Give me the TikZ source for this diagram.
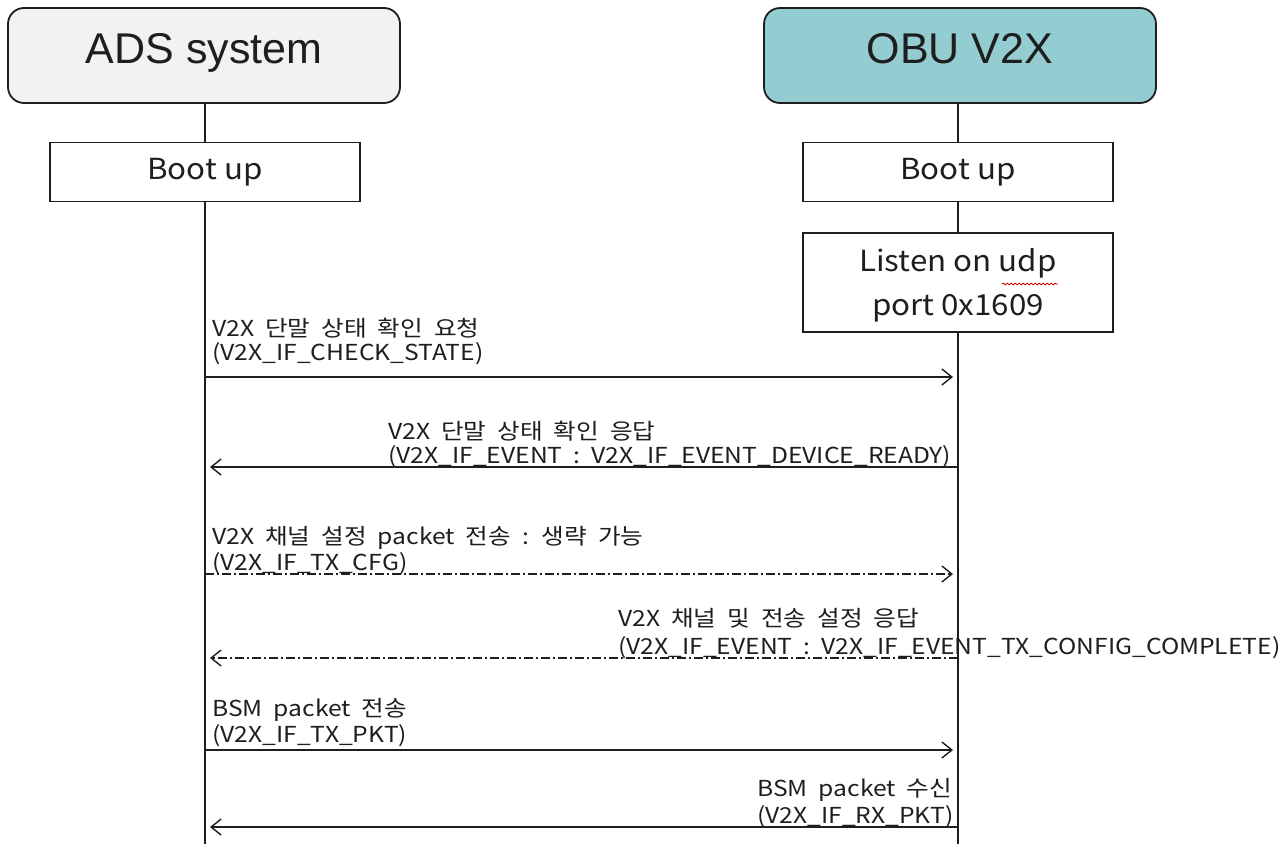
\documentclass[tikz,border=0pt]{standalone}
\usepackage{fontspec}
\setmainfont[FakeStretch=1.08]{Noto Sans CJK KR}
\newfontfamily\lblfam[FakeStretch=1.12]{Noto Sans CJK KR}
\newfontfamily\titlefont{Liberation Sans}
\usetikzlibrary{arrows.meta,decorations.pathmorphing}
\definecolor{teal1}{RGB}{148,205,209}
\definecolor{gray1}{RGB}{242,242,242}
\definecolor{ink}{RGB}{30,30,30}
\newcommand\mylblfont{\lblfam\fontsize{22}{24}\selectfont\spaceskip=0.5em plus 0.1em\relax}
\begin{document}
\begin{tikzpicture}[x=1pt,y=-1pt,
  title/.style={draw=ink, line width=1.8pt, rounded corners=16pt, minimum width=392pt, minimum height=95pt, text height=31pt, text depth=0pt, font=\titlefont\fontsize{43}{50}\selectfont, text=ink},
  stepbox/.style={draw=ink, line width=1.8pt, fill=white, minimum width=310pt, minimum height=59pt, font=\fontsize{29}{44}\selectfont, align=center, text=ink},
  steptext/.style={inner sep=0pt, font=\fontsize{29}{44}\selectfont, align=center, text=ink},
  life/.style={line width=1.8pt, draw=ink},
  msg/.style={line width=1.8pt, draw=ink, shorten >=5pt, -{Straight Barb[length=10pt,width=16pt,line width=1.4pt]}},
  dd/.style={dash pattern=on 9pt off 3pt on 2pt off 3pt},
  lbl/.style={inner sep=0pt, align=left, font=\mylblfont, text=ink}
]
\useasboundingbox (0,0) rectangle (1287,844);
% headers
\node[title, fill=gray1] (ads) at (204,55.5) {\raisebox{8pt}{ADS system}};
\node[title, fill=teal1] (obu) at (960,55.5) {\raisebox{8pt}{OBU V2X}};
% steps
\node[stepbox] (bootL) at (205,172) {\raisebox{-1pt}{Boot up}};
\node[stepbox] (bootR) at (958,172) {\raisebox{-1pt}{Boot up}};
\node[stepbox, minimum height=99pt] (listen) at (958,282.5) {};
\node[steptext] (listentxt) at ([yshift=-3pt]listen.center) {Listen on udp\\port 0x1609};
\draw[red!80!black, line width=0.8pt, decorate, decoration={snake, amplitude=0.9pt, segment length=4pt}] (1002,284) -- (1058,284);
% lifeline ends
\coordinate (Lend) at (205,844);
\coordinate (Rend) at (958,844);
\draw[life] (ads.south -| bootL.north) -- (bootL.north);
\draw[life] (bootL.south) -- (Lend);
\draw[life] (obu.south -| bootR.north) -- (bootR.north);
\draw[life] (bootR.south) -- (listen.north);
\draw[life] (listen.south) -- (Rend);
% message points
\coordinate (L1) at (205,377); \coordinate (R1) at (958,377);
\coordinate (L2) at (205,467); \coordinate (R2) at (958,467);
\coordinate (L3) at (205,574); \coordinate (R3) at (958,574);
\coordinate (L4) at (205,658); \coordinate (R4) at (958,658);
\coordinate (L5) at (205,750); \coordinate (R5) at (958,750);
\coordinate (L6) at (205,827); \coordinate (R6) at (958,827);
% messages
\draw[msg] (L1) -- (R1);
\draw[msg] (R2) -- (L2);
\draw[msg, dd] (L3) -- (R3);
\draw[msg, dd] (R4) -- (L4);
\draw[msg] (L5) -- (R5);
\draw[msg] (R6) -- (L6);
% labels
\node[lbl, anchor=south west] (t1) at (212,365) {V2X 단말 상태 확인 요청\\(V2X\_IF\_CHECK\_STATE)};
\node[lbl, anchor=south west] (t2) at (388,468) {V2X 단말 상태 확인 응답\\(V2X\_IF\_EVENT : V2X\_IF\_EVENT\_DEVICE\_READY)};
\node[lbl, anchor=south west] (t3) at (212,575) {V2X 채널 설정 packet 전송 : 생략 가능\\[2pt](V2X\_IF\_TX\_CFG)};
\node[lbl, anchor=south west] (t4) at (618,659) {V2X 채널 및 전송 설정 응답\\[4pt](V2X\_IF\_EVENT : V2X\_IF\_EVENT\_TX\_CONFIG\_COMPLETE)};
\node[lbl, anchor=south west] (t5) at (212,747) {BSM packet 전송\\[2pt](V2X\_IF\_TX\_PKT)};
\node[lbl, anchor=south west] (t6) at (757,828) {BSM packet 수신\\[3pt](V2X\_IF\_RX\_PKT)};
\end{tikzpicture}
\end{document}
